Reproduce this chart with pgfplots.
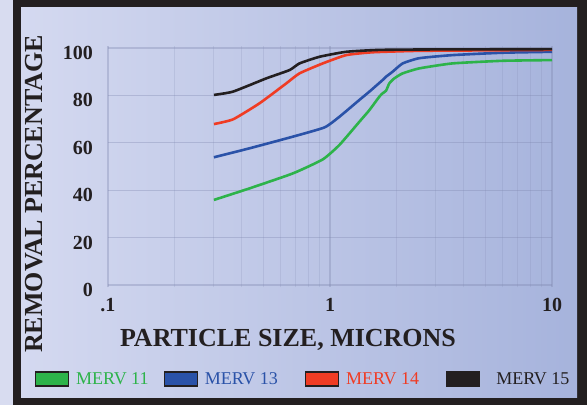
\documentclass[border=0pt]{standalone}
\usepackage{pgfplots}
\pgfplotsset{compat=1.18}
\usepackage{fontspec}
\setmainfont{Liberation Serif}
\definecolor{frame}{HTML}{231F20}
\definecolor{strip}{HTML}{D8DCF0}
\definecolor{panelL}{HTML}{D4D9F0}
\definecolor{panelR}{HTML}{A6B3DC}
\definecolor{gridc}{HTML}{7E86AE}
\definecolor{mgreen}{HTML}{2DB34A}
\definecolor{mblue}{HTML}{2A52A8}
\definecolor{mred}{HTML}{F03C24}
\definecolor{mblack}{HTML}{231F20}
\begin{document}
\begin{tikzpicture}[x=1pt,y=1pt]
\useasboundingbox (0,0) rectangle (587,405);
\fill[strip] (0,0) rectangle (13,405);
\fill[frame] (13,0) rectangle (587,405);
\shade[left color=panelL, right color=panelR] (21,8) rectangle (577,397);
\begin{axis}[
  at={(108pt,117.63pt)}, anchor=south west,
  scale only axis, width=444pt, height=241.74pt,
  xmode=log, xmin=0.1, xmax=10, ymin=-1, ymax=101,
  xtick={0.1,1,10}, xticklabels={.1,1,10},
  minor xtick={0.2,0.3,0.4,0.5,0.6,0.7,0.8,0.9,2,3,4,5,6,7,8,9},
  ytick={0,20,40,60,80,100},
  grid=both,
  major grid style={draw=gridc, opacity=0.35, line width=1.3pt},
  minor grid style={draw=gridc, opacity=0.2, line width=1pt},
  axis line style={draw=none},
  tick style={draw=none},
  major tick length=0pt, minor tick length=0pt,
  /pgf/number format/assume math mode=true,
  tick label style={font=\bfseries\fontsize{20}{20}\selectfont, text=frame, inner sep=0pt},
  yticklabel style={anchor=east, xshift=-15pt, yshift=-5pt},
  xticklabel style={anchor=north, yshift=-11pt},
  legend columns=4,
  legend cell align=left,
  legend style={draw=none, fill=none, inner sep=0pt, outer sep=0pt,
    at={(-0.1644,-0.379)}, anchor=west,
    font=\fontsize{18}{18}\selectfont,
    nodes={inner sep=0pt},
    /tikz/every odd column/.append style={column sep=7pt},
    /tikz/every even column/.append style={column sep=15pt}},
]
\addplot[mgreen, line width=2.6pt, smooth, tension=0.3, forget plot] coordinates {
(0.3,35.9) (0.435,40.8) (0.681,47.1) (0.928,53.0) (1.103,59.1) (1.357,68.9) (1.505,73.8) (1.669,79.5) (1.727,80.9) (1.789,82.0) (1.851,85.1) (1.95,87.2) (2.125,89.3) (2.525,91.4) (3.564,93.5) (5.98,94.6) (10,94.9)};
\addplot[mblue, line width=2.6pt, smooth, tension=0.3, forget plot] coordinates {
(0.3,53.9) (0.435,57.7) (0.681,62.6) (0.945,66.5) (1.103,71.0) (1.357,78.1) (1.505,81.6) (1.727,86.5) (1.789,87.9) (1.915,90.0) (2.125,93.5) (2.525,95.7) (3.564,97.0) (5.98,98.0) (10,98.4)};
\addplot[mred, line width=2.6pt, smooth, tension=0.3, forget plot] coordinates {
(0.3,67.9) (0.366,69.9) (0.482,76.7) (0.636,85.1) (0.729,89.3) (0.928,93.5) (1.183,97.0) (1.557,98.2) (2.5,98.8) (5,99.0) (10,99.2)};
\addplot[mblack, line width=2.6pt, smooth, tension=0.3, forget plot] coordinates {
(0.3,80.2) (0.366,81.6) (0.517,87.2) (0.658,90.7) (0.729,93.5) (0.897,96.3) (1.183,98.4) (1.669,99.2) (3,99.4) (10,99.5)};
\addlegendimage{legend image code/.code={\draw[fill=mgreen, draw=frame, line width=1.2pt] (0pt,-7pt) rectangle (33pt,7pt);}}
\addlegendentry{\textcolor{mgreen}{MERV 11}}
\addlegendimage{legend image code/.code={\draw[fill=mblue, draw=frame, line width=1.2pt] (0pt,-7pt) rectangle (33pt,7pt);}}
\addlegendentry{\textcolor{mblue}{MERV 13}\hspace*{12pt}}
\addlegendimage{legend image code/.code={\draw[fill=mred, draw=frame, line width=1.2pt] (0pt,-7pt) rectangle (33pt,7pt);}}
\addlegendentry{\textcolor{mred}{MERV 14}\hspace*{12pt}}
\addlegendimage{legend image code/.code={\draw[fill=mblack, draw=frame, line width=1.2pt] (0pt,-7pt) rectangle (33pt,7pt);}}
\addlegendentry{\textcolor{frame}{\hspace*{9pt}MERV 15}}
\end{axis}
\node[rotate=90, font=\bfseries\fontsize{26}{26}\selectfont, text=frame] at (34,211) {REMOVAL PERCENTAGE};
\node[font=\bfseries\fontsize{26}{26}\selectfont, text=frame] at (288,65) {PARTICLE SIZE, MICRONS};
\end{tikzpicture}
\end{document}
